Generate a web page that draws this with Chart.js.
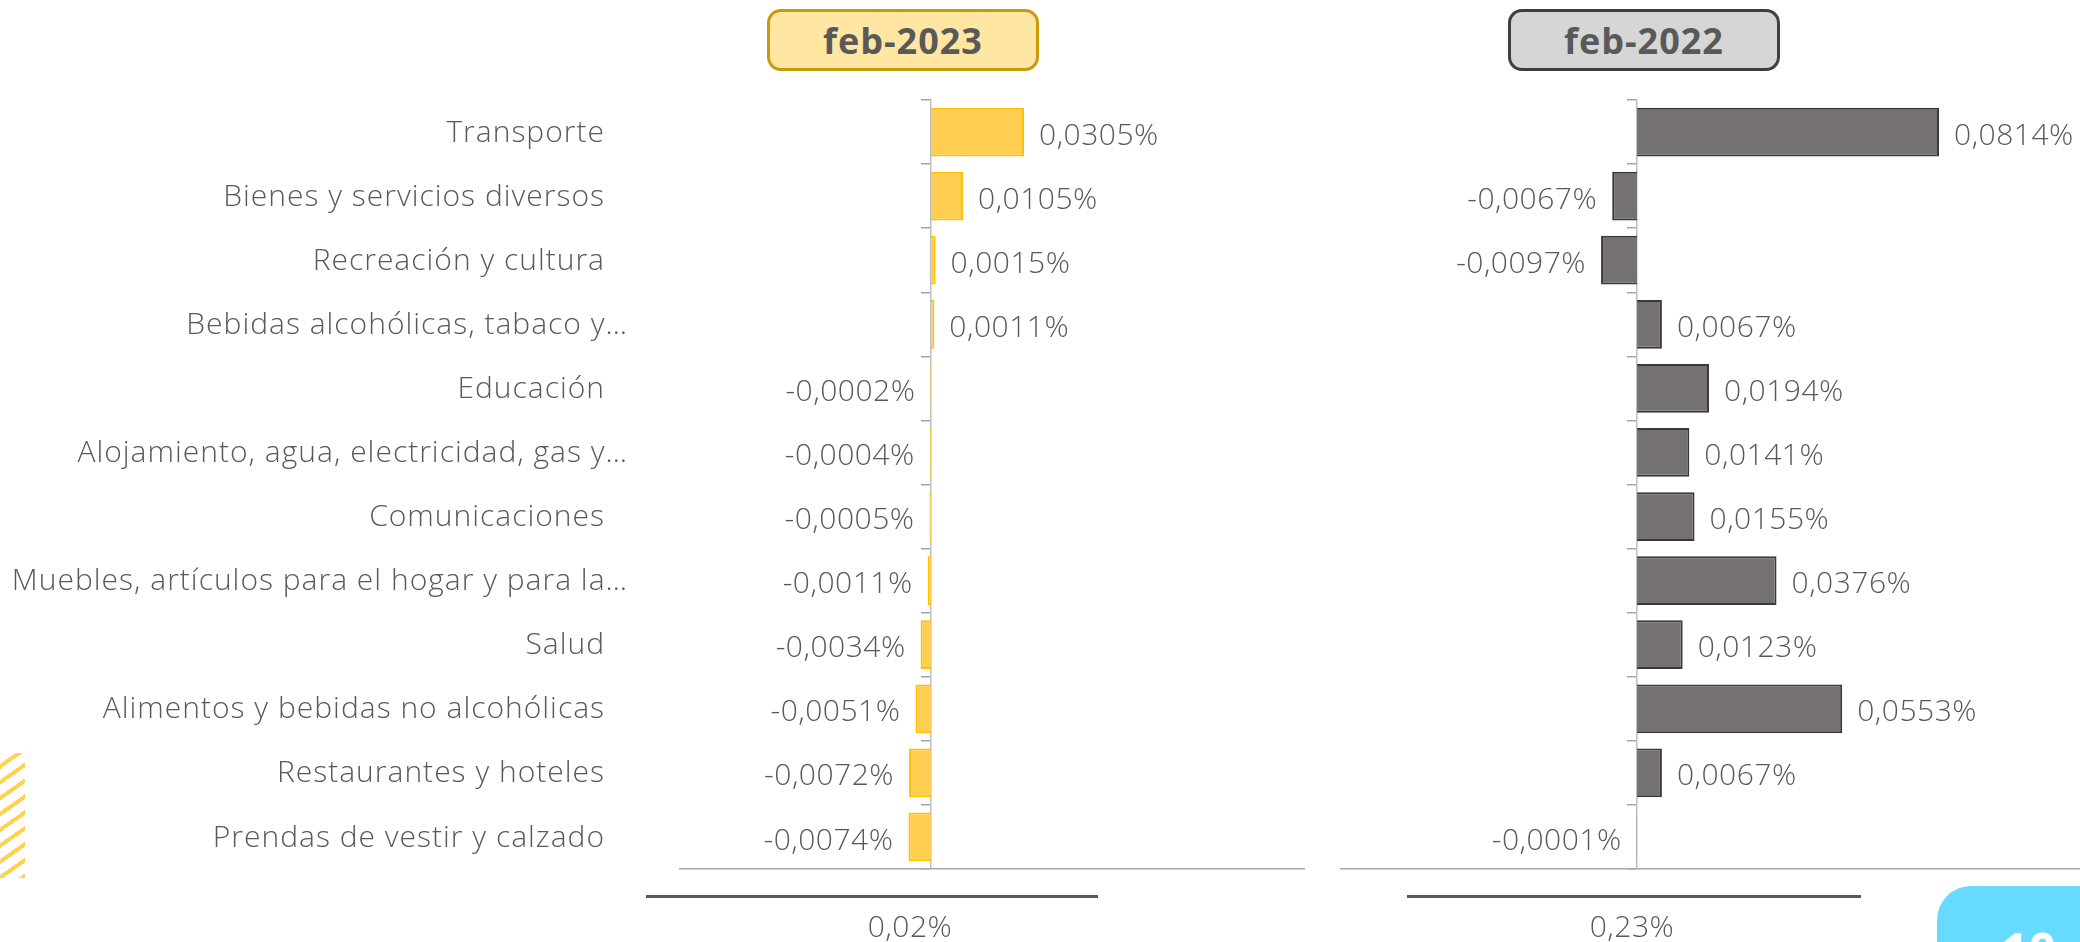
<!DOCTYPE html>
<html>
<head>
<meta charset="utf-8">
<script src="https://cdn.jsdelivr.net/npm/chart.js@4"></script>
<style>
  body{margin:0;width:2080px;height:942px;background:#fff;position:relative;overflow:hidden;font-family:"Open Sans",Lato,sans-serif;color:#595959}
  canvas{position:absolute;top:0}
  #c1{left:0}
  #c2{left:1320px}
  .titulo{position:absolute;top:9px;height:62px;width:272px;border-radius:14px;font-weight:bold;font-size:36px;letter-spacing:1px;
    display:flex;align-items:center;justify-content:center;box-sizing:border-box}
  #t1{left:767px;background:#FFE7A3;border:3px solid #C99A0A}
  #t2{left:1508px;background:#D7D6D6;border:3px solid #3F3F3F}
  .linea{position:absolute;top:895px;height:3px;background:#595959}
  .total{position:absolute;top:905px;font-size:30px;font-weight:300;letter-spacing:0.5px;width:200px;text-align:center;line-height:42px}
  #rayas{position:absolute;left:0;top:753px;width:25px;height:125px;
    background:repeating-linear-gradient(145deg,transparent 0 9px,#FFD24F 9px 13px)}
  #esquina{position:absolute;left:1937px;top:886px;width:160px;height:80px;background:#66DAFF;border-radius:34px 0 0 0;overflow:hidden}
  #pagina{position:absolute;left:64px;top:40px;color:#fff;font-weight:bold;font-size:48px;line-height:48px}
</style>
</head>
<body>
<div class="titulo" id="t1">feb-2023</div>
<div class="titulo" id="t2">feb-2022</div>
<canvas id="c1" width="1320" height="942"></canvas>
<canvas id="c2" width="760" height="942"></canvas>
<div class="linea" style="left:646px;width:452px"></div>
<div class="linea" style="left:1407px;width:454px"></div>
<div class="total" style="left:810px">0,02%</div>
<div class="total" style="left:1532px">0,23%</div>
<div id="rayas"></div>
<div id="esquina"><div id="pagina">10</div></div>
<script>
const categorias = [
  'Transporte',
  'Bienes y servicios diversos',
  'Recreación y cultura',
  'Bebidas alcohólicas, tabaco y…',
  'Educación',
  'Alojamiento, agua, electricidad, gas y…',
  'Comunicaciones',
  'Muebles, artículos para el hogar y para la…',
  'Salud',
  'Alimentos y bebidas no alcohólicas',
  'Restaurantes y hoteles',
  'Prendas de vestir y calzado'
];
const feb2023 = [0.0305, 0.0105, 0.0015, 0.0011, -0.0002, -0.0004, -0.0005, -0.0011, -0.0034, -0.0051, -0.0072, -0.0074];
const feb2022 = [0.0814, -0.0067, -0.0097, 0.0067, 0.0194, 0.0141, 0.0155, 0.0376, 0.0123, 0.0553, 0.0067, -0.0001];

const fuente = '300 30px "Open Sans", Lato, sans-serif';
const gris = '#595959';

function fmt(v){ return v.toFixed(4).replace('.', ',') + '%'; }

const etiquetasValor = {
  id: 'etiquetasValor',
  afterDatasetsDraw(chart){
    const ctx = chart.ctx;
    const meta = chart.getDatasetMeta(0);
    const datos = chart.data.datasets[0].data;
    ctx.save();
    ctx.font = fuente;
    ctx.letterSpacing = '0.5px';
    ctx.fillStyle = gris;
    ctx.textBaseline = 'middle';
    meta.data.forEach((bar, i) => {
      const v = datos[i];
      if (v >= 0) { ctx.textAlign = 'left'; ctx.fillText(fmt(v), bar.x + 15, bar.y + 4); }
      else { ctx.textAlign = 'right'; ctx.fillText(fmt(v), bar.x - 15, bar.y + 4); }
    });
    ctx.restore();
  }
};

const etiquetasCat = {
  id: 'etiquetasCat',
  afterDraw(chart){
    if (!chart.options.plugins.etiquetasCat.mostrar) return;
    const ctx = chart.ctx;
    const y = chart.scales.y;
    ctx.save();
    ctx.font = fuente;
    ctx.letterSpacing = '1px';
    ctx.fillStyle = gris;
    ctx.textAlign = 'right';
    ctx.textBaseline = 'middle';
    chart.data.labels.forEach((lab, i) => {
      const x = chart.chartArea.left - (lab.endsWith('…') ? 52 : 75);
      ctx.fillText(lab, x, y.getPixelForValue(i) + 1);
    });
    ctx.restore();
  }
};

function crear(id, datos, relleno, borde, xmin, xmax, padding, mostrarCat){
  return new Chart(document.getElementById(id), {
    type: 'bar',
    data: {
      labels: categorias,
      datasets: [{
        data: datos,
        backgroundColor: relleno,
        borderColor: borde,
        borderWidth: 2,
        categoryPercentage: 1,
        barPercentage: 0.76
      }]
    },
    options: {
      indexAxis: 'y',
      responsive: false,
      animation: false,
      layout: { padding: padding },
      plugins: {
        legend: { display: false },
        tooltip: { enabled: false },
        etiquetasCat: { mostrar: mostrarCat }
      },
      scales: {
        x: {
          min: xmin, max: xmax,
          ticks: { display: false },
          grid: { display: false },
          border: { display: true, color: '#A6A6A6', width: 1.5 }
        },
        y: {
          position: { x: 0 },
          ticks: { display: false },
          grid: { display: true, drawOnChartArea: false, offset: true, tickLength: 9, color: '#A6A6A6', lineWidth: 1.5 },
          border: { display: true, color: '#BFBFBF', width: 1.5 }
        }
      }
    },
    plugins: [etiquetasValor, etiquetasCat]
  });
}

crear('c1', feb2023, '#FFCD4F', '#FFC000', -0.0823, 0.1223, { left: 680, right: 16, top: 100, bottom: 65 }, true);
crear('c2', feb2022, '#767171', '#3A3838', -0.0798, 0.1194, { left: 21, right: 0, top: 100, bottom: 65 }, false);
</script>
</body>
</html>
